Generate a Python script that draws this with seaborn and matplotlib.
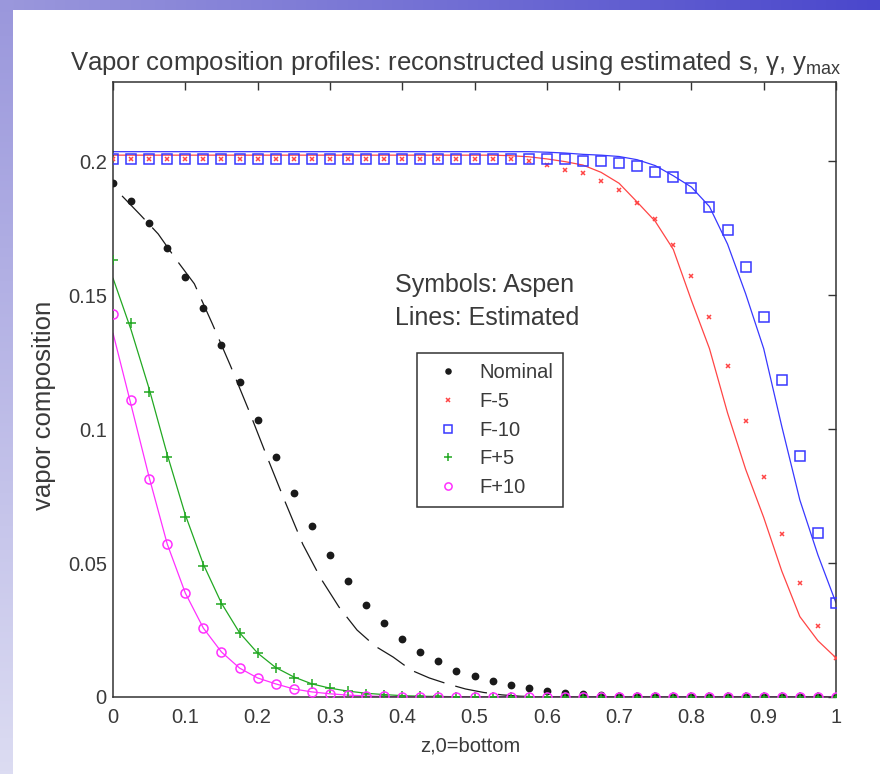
import numpy as np
import matplotlib
matplotlib.use("Agg")
import matplotlib.pyplot as plt
import seaborn as sns
from matplotlib.lines import Line2D

# ── Data ──────────────────────────────────────────────────
# stage positions of the Aspen points, z = 0 at the bottom
z_stage = [0.0, 0.025, 0.05, 0.075, 0.1, 0.125, 0.15, 0.175, 0.2, 0.225,
           0.25, 0.275, 0.3, 0.325, 0.35, 0.375, 0.4, 0.425, 0.45, 0.475,
           0.5, 0.525, 0.55, 0.575, 0.6, 0.625, 0.65, 0.675, 0.7, 0.725,
           0.75, 0.775, 0.8, 0.825, 0.85, 0.875, 0.9, 0.925, 0.95, 0.975, 1.0]

# nominal estimate is drawn on the half-stage grid
z_half = [0.0125, 0.0375, 0.0625, 0.0875, 0.1125, 0.1375, 0.1625, 0.1875,
          0.2125, 0.2375, 0.2625, 0.2875, 0.3125, 0.3375, 0.3625, 0.3875,
          0.4125, 0.4375, 0.4625, 0.4875, 0.5125, 0.5375, 0.5625, 0.5875,
          0.6125, 0.6375, 0.6625, 0.6875, 0.7125, 0.7375, 0.7625, 0.7875,
          0.8125, 0.8375, 0.8625, 0.8875, 0.9125, 0.9375, 0.9625, 0.9875]

# Aspen (symbols)
aspen_nominal = [0.1918, 0.185, 0.177, 0.1675, 0.1567, 0.145, 0.1313, 0.1175,
                 0.1034, 0.0896, 0.0761, 0.0638, 0.053, 0.0433, 0.0343, 0.0276,
                 0.0216, 0.0168, 0.0134, 0.0097, 0.0078, 0.006, 0.0045, 0.0032,
                 0.0022, 0.0015, 0.001, 0.0007, 0.0005, 0.0003, 0.0002, 0.0001,
                 0.0001, 0, 0, 0, 0, 0, 0, 0, 0]
aspen_fm5 = [0.2007] * 23 + [0.2, 0.1985, 0.1966, 0.1955, 0.1925, 0.1892, 0.1843,
                             0.1784, 0.1687, 0.157, 0.1418, 0.1235, 0.103, 0.0821,
                             0.0608, 0.0425, 0.0265, 0.0146]
aspen_fm10 = [0.2007] * 25 + [0.2007, 0.2, 0.2, 0.1993, 0.1981, 0.1959, 0.194,
                              0.19, 0.1828, 0.1743, 0.1604, 0.1418, 0.1183,
                              0.0899, 0.0612, 0.0351]
aspen_fp5 = [0.163, 0.1396, 0.1138, 0.0896, 0.0672, 0.0489, 0.0347, 0.0239,
             0.0164, 0.0108, 0.0071, 0.0049, 0.0034, 0.0022, 0.0013, 0.0008,
             0.0005, 0.0003, 0.0002, 0.0001] + [0] * 21
aspen_fp10 = [0.143, 0.1108, 0.0813, 0.0571, 0.0388, 0.0257, 0.0168, 0.0108,
              0.0071, 0.0049, 0.003, 0.0019, 0.0012, 0.0007, 0.0004, 0.0002,
              0.0001] + [0] * 24

# Estimated (lines)
est_nominal = [0.187, 0.180, 0.1728, 0.1632, 0.1542, 0.1392, 0.1236, 0.1072,
               0.0900, 0.0732, 0.0570, 0.0442, 0.0336, 0.0250, 0.0190, 0.0149,
               0.0100, 0.0071, 0.0049, 0.0030, 0.0017, 0.0008, 0.0003, 0.0001,
               0, 0, 0, 0, 0, 0, 0, 0, 0, 0, 0, 0, 0, 0, 0, 0]
est_fm5 = [0.2022] * 22 + [0.2020, 0.2016, 0.2008, 0.1998, 0.1985, 0.1958, 0.1917,
                           0.1847, 0.1775, 0.1670, 0.1480, 0.1300, 0.1060,
                           0.0850, 0.0670, 0.0470, 0.0300, 0.0210, 0.0146]
est_fm10 = [0.2035] * 24 + [0.2033, 0.2030, 0.2025, 0.2022, 0.2017, 0.2005, 0.1983,
                            0.1945, 0.1903, 0.1830, 0.1690, 0.1505, 0.1300,
                            0.1010, 0.0735, 0.0530, 0.0351]
est_fp5 = [0.1563, 0.137, 0.115, 0.0905, 0.068, 0.0495, 0.035, 0.024, 0.0164,
           0.011, 0.0075, 0.0049, 0.0033, 0.0022, 0.0014, 0.0009, 0.0005,
           0.0003, 0.0002, 0.0001] + [0] * 21
est_fp10 = [0.1358, 0.109, 0.082, 0.0571, 0.0388, 0.0257, 0.0168, 0.0108,
            0.0071, 0.0049, 0.003, 0.0019, 0.0012, 0.0007, 0.0004, 0.0002,
            0.0001] + [0] * 24

case_names = ['Nominal', 'F-5', 'F-10', 'F+5', 'F+10']
x_ticks = [0, 0.1, 0.2, 0.3, 0.4, 0.5, 0.6, 0.7, 0.8, 0.9, 1.0]
x_tick_labels = ['0', '0.1', '0.2', '0.3', '0.4', '0.5', '0.6', '0.7', '0.8', '0.9', '1']
y_ticks = [0, 0.05, 0.1, 0.15, 0.2]
y_tick_labels = ['0', '0.05', '0.1', '0.15', '0.2']

# ── Style ─────────────────────────────────────────────────
sns.set_style('white')
plt.rcParams['font.family'] = ['Liberation Sans', 'DejaVu Sans']
plt.rcParams['mathtext.fontset'] = 'custom'
plt.rcParams['mathtext.rm'] = 'Liberation Sans'
plt.rcParams['mathtext.it'] = 'Liberation Sans'

txt = '#3a3a3a'
c_nom, c_m5, c_m10, c_p5, c_p10 = '#1a1a1a', '#ff4545', '#3838ff', '#22a822', '#ff30ff'

fig = plt.figure(figsize=(8.8, 7.74), dpi=100, facecolor='white')

# slide frame: gradient strips on top and left
top = fig.add_axes([0, 1 - 10 / 774, 1, 10 / 774])
top.imshow(np.linspace(0, 1, 256)[None, :], aspect='auto',
           cmap=matplotlib.colors.LinearSegmentedColormap.from_list(
               'top', ['#9b98dc', '#4a47cc']))
top.set_axis_off()
left = fig.add_axes([0, 0, 12 / 880, 1])
left.imshow(np.linspace(0, 1, 256)[:, None], aspect='auto',
            cmap=matplotlib.colors.LinearSegmentedColormap.from_list(
                'left', ['#9a97dc', '#dcdcf2']))
left.set_axis_off()

ax = fig.add_axes([113 / 880, 1 - 697 / 774, 723 / 880, 615 / 774])

# estimated profiles (lines)
sns.lineplot(x=z_half, y=est_nominal, ax=ax, color=c_nom, lw=0.9,
             linestyle=(0, (26, 9)), errorbar=None, zorder=2)
for yv, c in zip([est_fm5, est_fm10, est_fp5, est_fp10], [c_m5, c_m10, c_p5, c_p10]):
    sns.lineplot(x=z_stage, y=yv, ax=ax, color=c, lw=0.9, errorbar=None, zorder=2)

# Aspen profiles (symbols)
sym = [
    (aspen_nominal, c_nom, 'o', 4.5, c_nom),
    (aspen_fm5, c_m5, 'x', 3.5, c_m5),
    (aspen_fm10, c_m10, 's', 7.5, 'none'),
    (aspen_fp5, c_p5, '+', 7, c_p5),
    (aspen_fp10, c_p10, 'o', 6.5, 'none'),
]
handles = []
for (yv, c, m, ms, fc), name in zip(sym, case_names):
    sns.lineplot(x=z_stage, y=yv, ax=ax, linestyle='', marker=m, markersize=ms,
                 markerfacecolor=fc, markeredgecolor=c, markeredgewidth=1.1,
                 errorbar=None, zorder=3)
    handles.append(Line2D([], [], linestyle='', marker=m, color=c,
                          markersize=ms * 0.8, markerfacecolor=fc,
                          markeredgecolor=c, markeredgewidth=1.1, label=name))

ax.set_xlim(0, 1)
ax.set_ylim(0, 0.2295)
ax.set_xticks(x_ticks)
ax.set_xticklabels(x_tick_labels)
ax.set_yticks(y_ticks)
ax.set_yticklabels(y_tick_labels)
ax.tick_params(direction='in', length=6, width=1, colors='#333333',
               labelcolor=txt, labelsize=14.5, top=True, right=True)
ax.tick_params(axis='x', pad=8)
ax.tick_params(axis='y', pad=4.5)
for s in ax.spines.values():
    s.set_color('#333333')
    s.set_linewidth(1.1)
ax.set_xlabel('')
ax.set_ylabel('')

fig.text(470 / 880, 1 - 746 / 774, 'z,0=bottom', ha='center', va='center',
         fontsize=14.5, color=txt)
fig.text(44 / 880, 1 - 405 / 774, 'vapor composition', ha='center', va='center',
         rotation=90, fontsize=18.5, color=txt)
fig.text(456 / 880, 1 - 63 / 774,
         r'Vapor composition profiles: reconstructed using estimated s, γ, y$_{\mathregular{max}}$',
         ha='center', va='center', fontsize=18.5, color=txt)

ax.text(0.39, 0.1537, 'Symbols: Aspen', fontsize=18, color=txt, va='center')
ax.text(0.39, 0.1414, 'Lines: Estimated', fontsize=18, color=txt, va='center')

leg = ax.legend(handles=handles, loc='upper left', bbox_to_anchor=(0.42, 0.559),
                frameon=True, fancybox=False, framealpha=1, edgecolor='#333333',
                fontsize=14.5, handlelength=2.1, handletextpad=0.5,
                labelspacing=0.48, borderpad=0.5, borderaxespad=0)
leg.get_frame().set_linewidth(1.1)
for t in leg.get_texts():
    t.set_color(txt)

plt.savefig('out.png', dpi=100, facecolor='white')
